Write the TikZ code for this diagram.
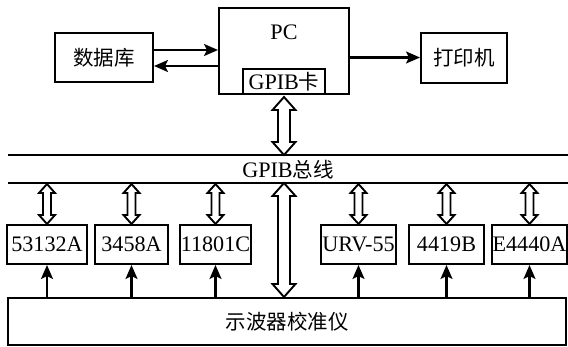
\documentclass[tikz,border=0pt]{standalone}
\usepackage{fontspec}
\setmainfont{Liberation Serif}[Scale=1.08]
\newfontfamily\cjk{Noto Sans CJK SC}
\usetikzlibrary{arrows.meta,calc}
\newcommand\hdarr[5]{%
  \draw[hol] let \p1=(#1), \p2=(#2) in
    (\x1,\y1) -- (\x1+#4,\y1-#5) -- (\x1+#3,\y1-#5) -- (\x1+#3,\y2+#5) --
    (\x1+#4,\y2+#5) -- (\x1,\y2) -- (\x1-#4,\y2+#5) -- (\x1-#3,\y2+#5) --
    (\x1-#3,\y1-#5) -- (\x1-#4,\y1-#5) -- cycle;}
\tikzset{
  box/.style={draw, line width=2pt, inner sep=0pt, fill=white,
    font=\fontsize{20.5pt}{24pt}\selectfont},
  txt/.style={inner sep=0pt, font=\fontsize{20.5pt}{24pt}\selectfont},
  arr/.style={line width=2.2pt, -{Stealth[length=14pt,width=12pt,inset=3pt]}},
  hol/.style={line width=1.9pt, fill=white, line join=miter},
  busline/.style={line width=1.9pt}
}
\begin{document}
\begin{tikzpicture}[x=1pt,y=-1pt]
\useasboundingbox (0,0) rectangle (568,346);
% top row
\node[box, minimum width=98pt, minimum height=49pt] (db) at (104,57.5) {\cjk 数据库};
\node[box, minimum width=130pt, minimum height=86pt] (pc) at (284,51) {};
\node[txt] (pctext) at (284,32) {PC};
\node[box, minimum width=82pt, minimum height=25pt] (card) at (284,81.5) {GPIB{\cjk 卡}};
\node[box, minimum width=86pt, minimum height=50pt] (prn) at (464,58) {\cjk 打印机};
\draw[arr] ([yshift=7.5pt]db.east) -- ([yshift=7.5pt]db.east -| pc.west);
\draw[arr] ([yshift=-8.5pt]db.east -| pc.west) -- ([yshift=-8.5pt]db.east);
\draw[arr] ([yshift=-6.5pt]pc.east) -- ([yshift=-6.5pt]pc.east -| prn.west);
% bus
\coordinate (btl) at (8,155);
\coordinate (btr) at (568,155);
\coordinate (bbl) at (8,183);
\coordinate (bbr) at (568,183);
\draw[busline] (btl) -- (btr);
\draw[busline] (bbl) -- (bbr);
\node[txt] (bus) at (288,170) {GPIB{\cjk 总线}};
% instruments
\foreach \k/\cx/\w/\t in {i1/47/80/53132A, i2/131.5/73/3458A, i3/215.5/71/11801C,
    i4/358.5/75/URV-55, i5/446.5/75/4419B, i6/529.5/75/E4440A}{
  \node[box, minimum width=\w pt, minimum height=39pt] (\k) at (\cx,244.5) {\t};
}
\node[box, minimum width=558pt, minimum height=47pt] (cal) at (287,321.5) {\cjk 示波器校准仪};
% solid up arrows
\foreach \k in {i1,i2,i3,i4,i5,i6}{
  \draw[arr] (\k.south |- cal.north) -- (\k.south);
}
% hollow double arrows
\coordinate (gtop) at ([yshift=-2pt]card.south);
\coordinate (gbot) at (card.south |- btl);
\hdarr{gtop}{gbot}{6pt}{11.5pt}{13pt}
\coordinate (ktop) at (card.south |- bbl);
\coordinate (kbot) at (card.south |- cal.north);
\hdarr{ktop}{kbot}{6pt}{11.5pt}{13pt}
\foreach \k in {i1,i2,i3,i4,i5,i6}{
  \coordinate (\k t) at ([yshift=-1pt]\k.north |- bbl);
  \coordinate (\k b) at (\k.north);
  \hdarr{\k t}{\k b}{4pt}{8pt}{9pt}
}
\end{tikzpicture}
\end{document}
